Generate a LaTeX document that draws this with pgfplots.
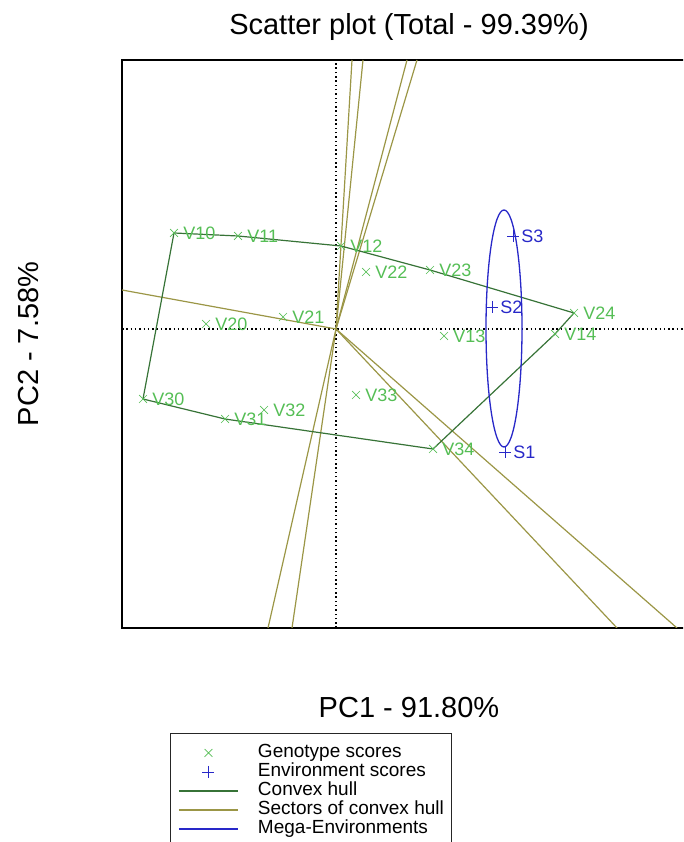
\documentclass[border=0pt]{standalone}
\usepackage{pgfplots}
\pgfplotsset{compat=1.18}
\usepackage{pgfplotstable}
\usepackage{fontspec}
\setmainfont{Liberation Sans}
\definecolor{genocol}{RGB}{85,190,85}
\definecolor{envcol}{RGB}{40,40,200}
\definecolor{hullcol}{RGB}{55,115,55}
\definecolor{sectcol}{RGB}{155,150,70}

\pgfplotstableread{
x y label
-162 96 V10
-98 93 V11
5 83 V12
108 -7 V13
219 -5 V14
-130 5 V20
-53 12 V21
30 57 V22
94 59 V23
238 16 V24
-193 -70 V30
-111 -90 V31
-72 -81 V32
20 -66 V33
97 -120 V34
}\genotab

\pgfplotstableread{
x y label
169 -123 S1
156 22 S2
177 93 S3
}\envtab

\begin{document}
\begin{tikzpicture}[x=1pt,y=1pt]
\path[use as bounding box] (0,0) rectangle (683,842);
\clip (0,0) rectangle (683,842);
\begin{axis}[
  at={(122pt,214pt)}, anchor=south west,
  scale only axis, width=574pt, height=568pt,
  xmin=-214, xmax=360, ymin=-299, ymax=269,
  xtick=\empty, ytick=\empty,
  axis line style={line width=2pt},
  title={Scatter plot (Total - 99.39\%)},
  title style={at={(axis description cs:0.5,1.0335)}, anchor=base, inner sep=0pt, font=\fontsize{29}{34}\selectfont},
  xlabel={PC1 - 91.80\%},
  xlabel style={at={(axis description cs:0.5,-0.1567)}, anchor=base, inner sep=0pt, font=\fontsize{29}{34}\selectfont},
  ylabel={PC2 - 7.58\%},
  ylabel style={at={(axis description cs:-0.1446,0.5)}, anchor=base, rotate=0, inner sep=0pt, font=\fontsize{29}{34}\selectfont},
  legend style={at={(axis description cs:0.0836,-0.185)}, anchor=north west,
    draw=black!85, line width=0.8pt, inner xsep=8pt, inner ysep=10pt, row sep=0pt,
    font=\fontsize{19}{19}\selectfont,
    nodes={inner sep=0pt, text height=14.5pt, text depth=4.5pt, anchor=west}},
  legend cell align=left,
]
% legend images
\addlegendimage{legend image code/.code={\draw[genocol, line width=0.7pt, mark=x, mark size=5.5pt] plot coordinates {(29.5pt,0pt)}; \path[draw=none] (0pt,0pt) (79pt,0pt);}}
\addlegendentry{Genotype scores}
\addlegendimage{legend image code/.code={\draw[envcol, line width=0.8pt, mark=+, mark size=6pt] plot coordinates {(29.5pt,0pt)}; \path[draw=none] (0pt,0pt) (79pt,0pt);}}
\addlegendentry{Environment scores}
\addlegendimage{legend image code/.code={\draw[hullcol, line width=1.2pt] (0pt,0pt) -- (59pt,0pt); \path[draw=none] (79pt,0pt);}}
\addlegendentry{Convex hull}
\addlegendimage{legend image code/.code={\draw[sectcol, line width=1.2pt] (0pt,0pt) -- (59pt,0pt); \path[draw=none] (79pt,0pt);}}
\addlegendentry{Sectors of convex hull}
\addlegendimage{legend image code/.code={\draw[envcol, line width=1.2pt] (0pt,0pt) -- (59pt,0pt); \path[draw=none] (79pt,0pt);}}
\addlegendentry{Mega-Environments}

% origin dotted lines
\addplot[black, line width=1.2pt, dash pattern=on 1.5pt off 2.8pt, forget plot] coordinates {(0,-299) (0,269)};
\addplot[black, line width=1.2pt, dash pattern=on 1.5pt off 2.8pt, forget plot] coordinates {(-214,0) (360,0)};

% sector rays
\addplot[sectcol, line width=1.2pt, forget plot] coordinates {(0,0) (16,269)};
\addplot[sectcol, line width=1.2pt, forget plot] coordinates {(0,0) (27,269)};
\addplot[sectcol, line width=1.2pt, forget plot] coordinates {(0,0) (71,269)};
\addplot[sectcol, line width=1.2pt, forget plot] coordinates {(0,0) (81,269)};
\addplot[sectcol, line width=1.2pt, forget plot] coordinates {(0,0) (-68,-299)};
\addplot[sectcol, line width=1.2pt, forget plot] coordinates {(0,0) (-44,-299)};
\addplot[sectcol, line width=1.2pt, forget plot] coordinates {(0,0) (281,-299)};
\addplot[sectcol, line width=1.2pt, forget plot] coordinates {(0,0) (341,-299)};
\addplot[sectcol, line width=1.2pt, forget plot] coordinates {(0,0) (-214,39)};

% convex hull
\addplot[hullcol, line width=1.2pt, forget plot] coordinates {
(-162,96) (-98,93) (5,83) (94,59) (238,16) (219,-5) (97,-120) (-111,-90) (-193,-70) (-162,96)};

% mega-environment ellipse
\draw[envcol, line width=1.3pt] (axis cs:168,0.5) ellipse [x radius=18, y radius=118.5];

% genotype scores
\addplot[only marks, mark=x, mark size=5.5pt, mark options={genocol, line width=0.7pt}, forget plot,
  point meta=explicit symbolic, nodes near coords, nodes near coords align={anchor=west},
  every node near coord/.append style={anchor=west, xshift=9pt, inner sep=0pt, text=genocol, font=\fontsize{18}{18}\selectfont}]
  table[x=x, y=y, meta=label] {\genotab};

% environment scores
\addplot[only marks, mark=+, mark size=6pt, mark options={envcol, line width=0.8pt}, forget plot,
  point meta=explicit symbolic, nodes near coords, nodes near coords align={anchor=west},
  every node near coord/.append style={anchor=west, xshift=8pt, inner sep=0pt, text=envcol, font=\fontsize{18}{18}\selectfont}]
  table[x=x, y=y, meta=label] {\envtab};
\end{axis}
\end{tikzpicture}
\end{document}
